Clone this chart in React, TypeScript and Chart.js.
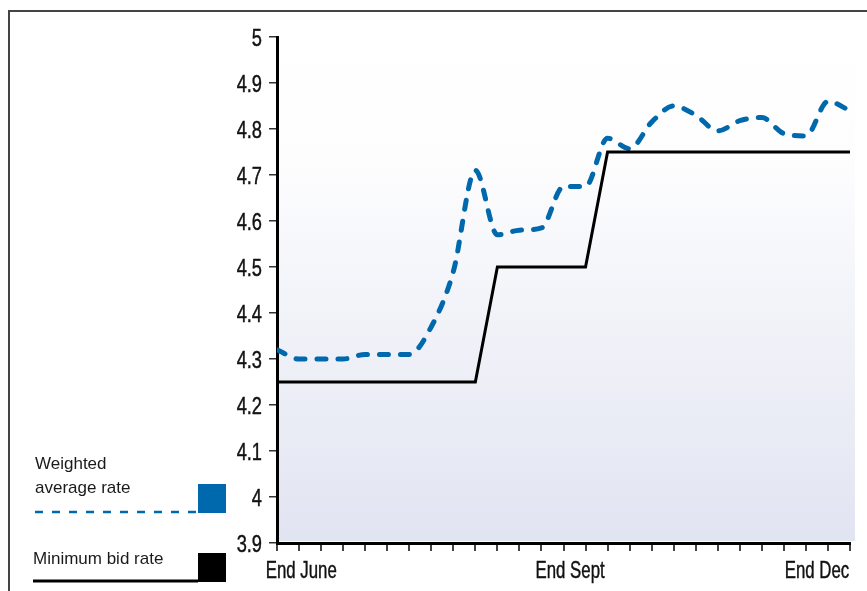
import { useEffect, useRef } from "react";
import { Chart, registerables } from "chart.js";

Chart.register(...registerables);

// Week index from end of June (0) to end of December (26)
const weeks = [
  0, 1, 2, 3, 4, 5, 6, 7, 8, 9, 10, 11, 12, 13, 14, 15, 16, 17, 18, 19, 20,
  21, 22, 23, 24, 25, 26,
];

// Weighted average rate (%)
const weightedAverageRate = [
  4.32, 4.3, 4.3, 4.3, 4.31, 4.31, 4.31, 4.37, 4.49, 4.71, 4.57, 4.58, 4.585,
  4.675, 4.675, 4.78, 4.757, 4.815, 4.85, 4.83, 4.796, 4.818, 4.825, 4.79,
  4.785, 4.86, 4.84,
];

// Minimum bid rate (%)
const minimumBidRate = [
  4.25, 4.25, 4.25, 4.25, 4.25, 4.25, 4.25, 4.25, 4.25, 4.25, 4.5, 4.5, 4.5,
  4.5, 4.5, 4.75, 4.75, 4.75, 4.75, 4.75, 4.75, 4.75, 4.75, 4.75, 4.75, 4.75,
  4.75,
];

const yTickValues = [3.9, 4, 4.1, 4.2, 4.3, 4.4, 4.5, 4.6, 4.7, 4.8, 4.9, 5];

// Period labels along the week axis
const xLabelPositions = [1.1, 13.3, 24.5];
const xLabelTexts = ["End June", "End Sept", "End Dec"];

const weightedLegend = ["Weighted", "average rate"];
const minimumLegend = "Minimum bid rate";

const BLUE = "#0068ad";
const SANS = "'Liberation Sans', Arial, sans-serif";

const formatRate = (v: number) => String(Number(v.toFixed(1)));

// Condensed axis labels: the axis supplies tick positions, the text is squeezed horizontally
function drawCondensed(ctx: CanvasRenderingContext2D, text: string, x: number, y: number, sx: number, align: CanvasTextAlign) {
  ctx.save();
  ctx.translate(x, y);
  ctx.scale(sx, 1);
  ctx.textAlign = align;
  ctx.strokeText(text, 0, 0);
  ctx.fillText(text, 0, 0);
  ctx.restore();
}

const panelPlugin = {
  id: "panel",
  beforeDraw(chart: any) {
    const { ctx, chartArea } = chart;
    const { left, right, top, bottom } = chartArea;
    ctx.save();
    const g = ctx.createLinearGradient(0, top, 0, bottom);
    g.addColorStop(0, "#ffffff");
    g.addColorStop(0.25, "#fdfdfe");
    g.addColorStop(1, "#e1e4f1");
    ctx.fillStyle = g;
    ctx.fillRect(left + 2, top, right - left + 3, bottom - top - 2);
    ctx.restore();
  },
  afterDraw(chart: any) {
    const { ctx } = chart;
    const xs = chart.scales.x;
    const ys = chart.scales.y;
    ctx.save();

    // axis labels
    ctx.fillStyle = "#111";
    ctx.strokeStyle = "#111";
    ctx.lineWidth = 0.45;
    ctx.font = `24px ${SANS}`;
    ctx.textBaseline = "alphabetic";
    yTickValues.forEach((v) => {
      const py = ys.getPixelForValue(v);
      drawCondensed(ctx, formatRate(v), 262, py + 8.5, 0.76, "right");
    });
    xLabelPositions.forEach((v, i) => {
      const px = xs.getPixelForValue(v);
      drawCondensed(ctx, xLabelTexts[i], px, 578, 0.7, "center");
    });

    // frame
    ctx.strokeStyle = "#444";
    ctx.lineWidth = 2;
    ctx.beginPath();
    ctx.moveTo(9, 591);
    ctx.lineTo(9, 11);
    ctx.lineTo(867, 11);
    ctx.stroke();

    // legend
    ctx.fillStyle = "#1a1a1a";
    ctx.font = `17px ${SANS}`;
    ctx.textAlign = "left";
    ctx.fillText(weightedLegend[0], 35, 469);
    ctx.fillText(weightedLegend[1], 35, 493);
    ctx.fillText(minimumLegend, 33, 564);

    ctx.strokeStyle = BLUE;
    ctx.lineWidth = 2.5;
    ctx.setLineDash([8, 9]);
    ctx.beginPath();
    ctx.moveTo(35, 512);
    ctx.lineTo(198, 512);
    ctx.stroke();
    ctx.setLineDash([]);
    ctx.fillStyle = BLUE;
    ctx.fillRect(198, 484, 28, 29);

    ctx.strokeStyle = "#000";
    ctx.lineWidth = 3;
    ctx.beginPath();
    ctx.moveTo(33, 581);
    ctx.lineTo(198, 581);
    ctx.stroke();
    ctx.fillStyle = "#000";
    ctx.fillRect(198, 553, 28, 29);
    ctx.restore();
  },
};

export default function App() {
  const canvasRef = useRef<HTMLCanvasElement | null>(null);

  useEffect(() => {
    const canvas = canvasRef.current;
    if (!canvas) return;
    const chart = new Chart(canvas, {
      type: "line",
      data: {
        datasets: [
          {
            label: "Minimum bid rate",
            data: weeks.map((w, i) => ({ x: w, y: minimumBidRate[i] })),
            borderColor: "#000",
            borderWidth: 3,
            pointRadius: 0,
            tension: 0,
            borderJoinStyle: "miter",
          },
          {
            label: "Weighted average rate",
            data: weeks.map((w, i) => ({ x: w, y: weightedAverageRate[i] })),
            borderColor: BLUE,
            borderWidth: 5,
            borderDash: [9, 12],
            borderCapStyle: "round",
            pointRadius: 0,
            cubicInterpolationMode: "monotone",
          },
        ],
      },
      options: {
        animation: false,
        responsive: false,
        devicePixelRatio: 1,
        layout: { padding: { top: 37, right: 17, bottom: 0, left: 0 } },
        plugins: {
          legend: { display: false },
          tooltip: { enabled: false },
        },
        scales: {
          x: {
            type: "linear",
            min: 0,
            max: 26,
            afterFit(scale: any) {
              scale.height = 48;
            },
            afterBuildTicks(scale: any) {
              scale.ticks = weeks.map((v) => ({ value: v }));
            },
            grid: {
              drawOnChartArea: false,
              drawTicks: true,
              tickLength: 8,
              lineWidth: 2,
              color: "#444",
            },
            border: { display: true, color: "#000", width: 3 },
            ticks: { display: false },
          },
          y: {
            type: "linear",
            min: 3.9,
            max: 5,
            afterFit(scale: any) {
              scale.width = 277;
            },
            afterBuildTicks(scale: any) {
              scale.ticks = yTickValues.map((v) => ({ value: v }));
            },
            grid: {
              drawOnChartArea: false,
              drawTicks: true,
              tickLength: 8,
              lineWidth: 1.5,
              color: "#333",
            },
            border: { display: true, color: "#000", width: 3 },
            ticks: { display: false },
          },
        },
      },
      plugins: [panelPlugin],
    });
    return () => chart.destroy();
  }, []);

  return (
    <div style={{ position: "absolute", left: 0, top: 0, width: 867, height: 591 }}>
      <canvas ref={canvasRef} width={867} height={591} style={{ display: "block" }} />
    </div>
  );
}
